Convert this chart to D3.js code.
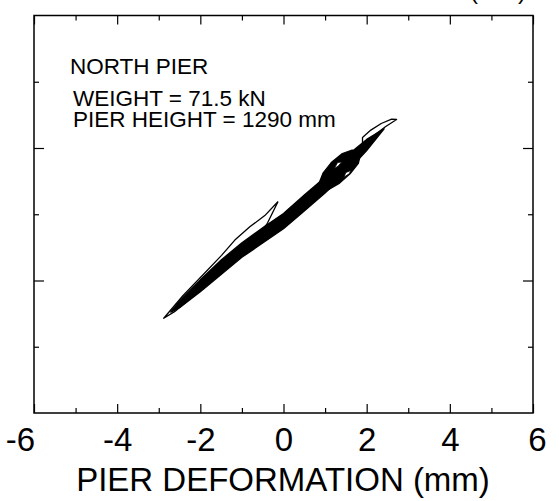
<!DOCTYPE html>
<html>
<head>
<meta charset="utf-8">
<script src="https://cdn.jsdelivr.net/npm/d3@7"></script>
<style>
  html, body { margin: 0; padding: 0; background: #fff; }
  svg { display: block; }
  text { font-family: "Liberation Sans", Arial, Helvetica, sans-serif; fill: #000; }
</style>
</head>
<body>
<svg id="chart" width="559" height="501"></svg>
<script>
// ---------- data ----------
const xMajorTicks = [-6, -4, -2, 0, 2, 4, 6];
const xMajorLabels = ["-6", "-4", "-2", "0", "2", "4", "6"];
const xMinorTicks = [-5, -3, -1, 1, 3, 5];
const yMajorTicks = [-10, 10];
const yMinorTicks = [-20, 0, 20];
const xLabel = "PIER DEFORMATION (mm)";
const annotations = ["NORTH PIER", "WEIGHT = 71.5 kN", "PIER HEIGHT = 1290 mm"];

// outlined hysteresis cycles (deformation mm, force kN)
const cycleLowerLeft = [[-0.13,1.93],[-0.45,-0.2],[-0.81,-1.9],[-1.17,-3.9],[-1.49,-6.2],[-1.9,-8.9],[-2.42,-12.3],[-2.88,-15.7],[-2.62,-14.7],[-2.2,-12.5],[-1.8,-10.2],[-1.2,-6.6],[-0.7,-3.6],[-0.4,-1.5],[-0.13,1.93]];
const cycleUpperRight = [[1.9,10.4],[2.2,12.0],[2.45,13.2],[2.72,14.3],[2.6,14.35],[2.35,13.7],[2.1,12.7],[1.9,11.6],[1.9,10.4]];
const cycleBulge = [[0.85,3.0],[1.1,3.8],[1.35,4.7],[1.6,6.1],[1.8,7.7],[1.85,9.0],[1.65,9.7],[1.4,9.1],[1.15,7.8],[0.95,6.2],[0.85,4.6],[0.85,3.0]];
// dense, overlapping cycles (drawn solid)
const cycleCore1 = [[-2.72,-14.8],[-2.5,-14.1],[-2.0,-11.7],[-1.5,-9.1],[-1.0,-6.5],[-0.5,-4.35],[0,-2.2],[0.5,0.5],[1.0,3.2],[1.5,6.2],[2.0,9.6],[2.42,12.9],[2.0,11.3],[1.5,8.7],[1.0,5.6],[0.5,2.9],[0,0.1],[-0.5,-2.05],[-1.0,-4.3],[-1.5,-6.9],[-2.0,-9.9],[-2.5,-13.1],[-2.72,-14.8]];
const cycleCore2 = [[-2.3,-12.9],[-1.5,-8.7],[-1.0,-6.0],[-0.5,-3.9],[0,-1.8],[0.5,1.0],[1.0,3.7],[1.5,6.8],[2.1,10.6],[1.5,8.1],[1.0,5.1],[0.5,2.4],[0,-0.2],[-0.5,-2.4],[-1.0,-4.7],[-1.5,-7.3],[-2.3,-12.9]];
const cycleCore3 = [[-1.7,-9.6],[-1.0,-6.2],[-0.5,-4.1],[0,-2.0],[0.5,0.8],[1.0,3.5],[1.7,8.3],[1.0,5.4],[0.5,2.7],[0,0.0],[-0.5,-2.2],[-1.0,-4.6],[-1.7,-9.6]];
// small open pockets inside the dense band
const pocketA = [[1.22,6.9],[1.32,7.3],[1.4,7.9],[1.3,7.8],[1.22,6.9]];
const pocketB = [[1.45,5.6],[1.58,6.1],[1.62,6.6],[1.5,6.3],[1.45,5.6]];

// ---------- layout ----------
const svg = d3.select("#chart");
const L = 34, R = 533, T = 15.5, B = 413;
const x = d3.scaleLinear().domain([-6, 6]).range([L, R]);
const y = d3.scaleLinear().domain([-30, 30]).range([B, T]);

// partial caption cut by the top edge
svg.append("text").attr("x", 470).attr("y", -1).attr("font-size", 24).text("(mm)");

const line = d3.line().x(d => x(d[0])).y(d => y(d[1]));

function drawCycle(c, fill, sw) {
  svg.append("path").attr("d", line(c))
    .attr("fill", fill).attr("stroke", "#000").attr("stroke-width", sw)
    .attr("stroke-linejoin", "round");
}
drawCycle(cycleLowerLeft, "#fff", 1.3);
drawCycle(cycleUpperRight, "#fff", 1.3);
drawCycle(cycleBulge, "#000", 1.3);
[cycleCore1, cycleCore2, cycleCore3].forEach(c => drawCycle(c, "#000", 1.3));
[pocketA, pocketB].forEach(c => drawCycle(c, "#fff", 0.8));

// ---------- axes (inward ticks on all sides) ----------
function styleAxis(g) {
  g.selectAll(".domain").remove();
  g.selectAll("line").attr("stroke", "#000").attr("stroke-width", 1.2);
}
svg.append("g").attr("transform", `translate(0,${B})`)
  .call(d3.axisBottom(x).tickValues(xMajorTicks).tickSizeInner(-9).tickSizeOuter(0).tickPadding(15)
    .tickFormat((d, i) => xMajorLabels[i]))
  .call(styleAxis)
  .call(g => g.selectAll("text").attr("font-size", 33).attr("dy", "0.71em")
    .attr("dx", (d, i) => i === 0 ? -14 : (i === xMajorTicks.length - 1 ? 4 : 0)));
svg.append("g").attr("transform", `translate(0,${B})`)
  .call(d3.axisBottom(x).tickValues(xMinorTicks).tickSizeInner(-5).tickSizeOuter(0).tickFormat(""))
  .call(styleAxis);
svg.append("g").attr("transform", `translate(0,${T})`)
  .call(d3.axisTop(x).tickValues(xMajorTicks).tickSizeInner(-9).tickSizeOuter(0).tickFormat(""))
  .call(styleAxis);
svg.append("g").attr("transform", `translate(0,${T})`)
  .call(d3.axisTop(x).tickValues(xMinorTicks).tickSizeInner(-5).tickSizeOuter(0).tickFormat(""))
  .call(styleAxis);
svg.append("g").attr("transform", `translate(${L},0)`)
  .call(d3.axisLeft(y).tickValues(yMajorTicks).tickSizeInner(-10).tickSizeOuter(0).tickFormat(""))
  .call(styleAxis);
svg.append("g").attr("transform", `translate(${L},0)`)
  .call(d3.axisLeft(y).tickValues(yMinorTicks).tickSizeInner(-5).tickSizeOuter(0).tickFormat(""))
  .call(styleAxis);
svg.append("g").attr("transform", `translate(${R},0)`)
  .call(d3.axisRight(y).tickValues(yMajorTicks).tickSizeInner(-10).tickSizeOuter(0).tickFormat(""))
  .call(styleAxis);
svg.append("g").attr("transform", `translate(${R},0)`)
  .call(d3.axisRight(y).tickValues(yMinorTicks).tickSizeInner(-5).tickSizeOuter(0).tickFormat(""))
  .call(styleAxis);

// frame
svg.append("rect").attr("x", L).attr("y", T).attr("width", R - L).attr("height", B - T)
  .attr("fill", "none").attr("stroke", "#000").attr("stroke-width", 1.5);

// axis title
svg.append("text").attr("x", 283).attr("y", 491).attr("text-anchor", "middle")
  .attr("font-size", 33).text(xLabel);

// annotations
svg.append("text").attr("x", 70).attr("y", 74).attr("font-size", 22.5).text(annotations[0]);
svg.append("text").attr("x", 73).attr("y", 106).attr("font-size", 22.5).text(annotations[1]);
svg.append("text").attr("x", 73).attr("y", 127).attr("font-size", 22.5).text(annotations[2]);
</script>
</body>
</html>
